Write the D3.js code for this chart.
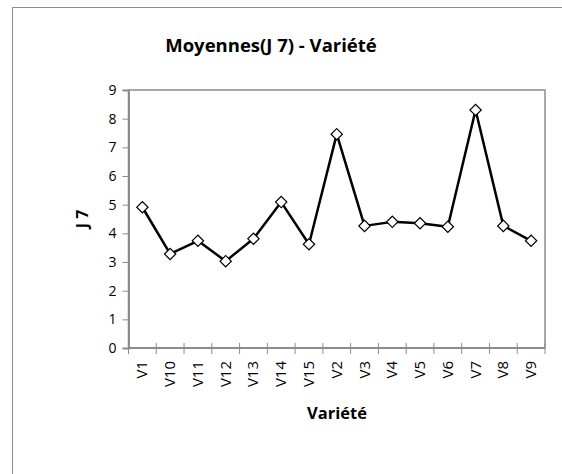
<!DOCTYPE html>
<html>
<head>
<meta charset="utf-8">
<script src="https://cdn.jsdelivr.net/npm/d3@7"></script>
<style>
  body { margin: 0; background: #fff; }
  text { font-family: "Open Sans", "Noto Sans", sans-serif; fill: #000; }
</style>
</head>
<body>
<div id="chart"></div>
<script>
// Chart data
var categories = ["V1", "V10", "V11", "V12", "V13", "V14", "V15", "V2", "V3", "V4", "V5", "V6", "V7", "V8", "V9"];
var values = [4.91, 3.28, 3.74, 3.03, 3.81, 5.09, 3.62, 7.46, 4.26, 4.40, 4.35, 4.23, 8.30, 4.26, 3.74];
var yTicks = [0, 1, 2, 3, 4, 5, 6, 7, 8, 9];

var width = 562, height = 474;
var plot = { left: 128.5, top: 90, right: 545, bottom: 348 };

var svg = d3.select("#chart").append("svg")
  .attr("width", width)
  .attr("height", height);

// outer chart frame
svg.append("rect")
  .attr("x", 12.5).attr("y", 7.5)
  .attr("width", 560).attr("height", 480)
  .attr("fill", "none")
  .attr("stroke", "#8c8c8c")
  .attr("stroke-width", 1);

var x = d3.scaleBand()
  .domain(categories)
  .range([plot.left, plot.right]);

var y = d3.scaleLinear()
  .domain([0, 9])
  .range([plot.bottom, plot.top]);

// plot area border
svg.append("rect")
  .attr("x", plot.left).attr("y", plot.top)
  .attr("width", plot.right - plot.left)
  .attr("height", plot.bottom - plot.top)
  .attr("fill", "none")
  .attr("stroke", "#8c8c8c")
  .attr("stroke-width", 1.5);

// y axis
var yAxis = svg.append("g")
  .attr("transform", "translate(" + plot.left + ",0)")
  .call(d3.axisLeft(y).tickValues(yTicks).tickSize(6).tickPadding(6));
yAxis.select(".domain").attr("stroke", "#8c8c8c").attr("stroke-width", 2);
yAxis.selectAll(".tick line").attr("stroke", "#8c8c8c").attr("stroke-width", 1);
yAxis.selectAll(".tick text").style("font-size", "14px").attr("fill", "#000");

// x axis (ticks on band edges, crossing)
var xg = svg.append("g").attr("transform", "translate(0," + plot.bottom + ")");
xg.append("line")
  .attr("x1", plot.left).attr("x2", plot.right)
  .attr("stroke", "#8c8c8c").attr("stroke-width", 2);
var edges = categories.map(function(c) { return x(c); }).concat([plot.right]);
xg.selectAll("line.tk").data(edges).enter().append("line")
  .attr("class", "tk")
  .attr("x1", function(d) { return d; }).attr("x2", function(d) { return d; })
  .attr("y1", -5).attr("y2", 6)
  .attr("stroke", "#8c8c8c");
xg.selectAll("text.lbl").data(categories).enter().append("text")
  .attr("class", "lbl")
  .attr("transform", function(d) {
    return "translate(" + (x(d) + x.bandwidth() / 2 + 5) + ",13) rotate(-90)";
  })
  .attr("text-anchor", "end")
  .style("font-size", "15px")
  .text(function(d) { return d; });

// line + markers
var line = d3.line()
  .x(function(d, i) { return x(categories[i]) + x.bandwidth() / 2; })
  .y(function(d) { return y(d); });

svg.append("path")
  .datum(values)
  .attr("d", line)
  .attr("fill", "none")
  .attr("stroke", "#000")
  .attr("stroke-width", 2.5)
  .attr("stroke-linejoin", "round");

var diamond = d3.symbol().type(d3.symbolSquare).size(64);
svg.selectAll("path.mk").data(values).enter().append("path")
  .attr("class", "mk")
  .attr("d", diamond)
  .attr("transform", function(d, i) {
    return "translate(" + (x(categories[i]) + x.bandwidth() / 2) + "," + y(d) + ") rotate(45)";
  })
  .attr("fill", "#fff")
  .attr("stroke", "#000")
  .attr("stroke-width", 1.2);

// titles
svg.append("text")
  .attr("x", 271).attr("y", 52)
  .attr("text-anchor", "middle")
  .style("font-size", "18.5px").style("font-weight", "bold")
  .text("Moyennes(J 7) - Variété");

svg.append("text")
  .attr("x", 337).attr("y", 419)
  .attr("text-anchor", "middle")
  .style("font-size", "16.5px").style("font-weight", "bold")
  .text("Variété");

svg.append("text")
  .attr("transform", "translate(88,219) rotate(-90)")
  .attr("text-anchor", "middle")
  .style("font-size", "16px").style("font-weight", "bold")
  .text("J 7");
</script>
</body>
</html>
